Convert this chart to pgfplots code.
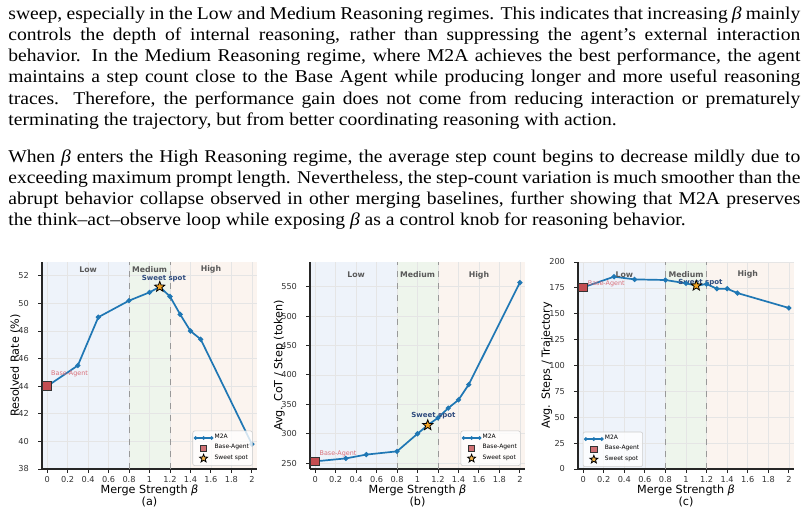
\documentclass[border=0pt]{standalone}
\usepackage{fontspec}
\setmainfont{Liberation Serif}
\newfontfamily\txtfont{Liberation Serif}[FakeStretch=1.09]
\newfontfamily\dejavu{DejaVu Sans}
\usepackage{pgfplots}
\pgfplotsset{compat=1.18}
\definecolor{m2a}{HTML}{1F77B4}
\definecolor{basered}{HTML}{C44E52}
\definecolor{starc}{HTML}{F5A623}
\definecolor{sweettext}{HTML}{2E4A7D}
\definecolor{basetext}{HTML}{D9707A}
\definecolor{lowbg}{HTML}{EEF3FA}
\definecolor{medbg}{HTML}{EEF5EC}
\definecolor{highbg}{HTML}{FBF4EF}
\pgfdeclareplotmark{fstar}{%
  \pgfpathmoveto{\pgfpointpolar{90}{\pgfplotmarksize}}%
  \pgfpathlineto{\pgfpointpolar{126}{0.42\pgfplotmarksize}}%
  \pgfpathlineto{\pgfpointpolar{162}{\pgfplotmarksize}}%
  \pgfpathlineto{\pgfpointpolar{198}{0.42\pgfplotmarksize}}%
  \pgfpathlineto{\pgfpointpolar{234}{\pgfplotmarksize}}%
  \pgfpathlineto{\pgfpointpolar{270}{0.42\pgfplotmarksize}}%
  \pgfpathlineto{\pgfpointpolar{306}{\pgfplotmarksize}}%
  \pgfpathlineto{\pgfpointpolar{342}{0.42\pgfplotmarksize}}%
  \pgfpathlineto{\pgfpointpolar{18}{\pgfplotmarksize}}%
  \pgfpathlineto{\pgfpointpolar{54}{0.42\pgfplotmarksize}}%
  \pgfpathclose\pgfusepathqfillstroke}
\pgfplotsset{
  m2apanel/.style={
    set layers, clip=false, scale only axis, height=103.5pt, width=107.5pt,
    axis lines*=left, axis line style={black!85, line width=0.55pt},
    xmin=-0.05, xmax=2.05,
    xtick={0,0.2,0.4,0.6,0.8,1,1.2,1.4,1.6,1.8,2},
    tick align=outside, major tick length=1.8pt,
    tick style={black!85, line width=0.45pt},
    grid=major, grid style={black!10, line width=0.35pt},
    /pgf/number format/assume math mode=true,
    tick label style={font=\dejavu\fontsize{4.1}{5}\selectfont, text=black!80},
    xticklabel style={yshift=1.5pt},
    yticklabel style={xshift=-1.2pt},
    label style={font=\dejavu\fontsize{5.6}{6.5}\selectfont},
    xlabel={Merge Strength {\itshape β}},
    x label style={at={(axis description cs:0.5,-0.101)}, anchor=center},
    legend cell align=left,
    legend style={font=\dejavu\fontsize{3}{3.6}\selectfont, fill=white, fill opacity=0.8, text opacity=1,
      draw=black!20, line width=0.3pt, rounded corners=1pt, inner sep=0.8pt,
      row sep=-0.4pt, nodes={inner sep=0.9pt}},
  },
  m2aline/.style={m2a, line width=0.85pt, mark=*, mark size=0.8pt, mark options={solid},
    legend image code/.code={\draw[##1, line width=0.6pt, mark size=0.6pt] plot coordinates {(0pt,0pt) (4pt,0pt) (8pt,0pt)};}},
  basemark/.style={only marks, mark=square*, mark size=2.2pt, mark options={fill=basered, draw=black!80, line width=0.45pt},
    legend image code/.code={\draw[##1, mark size=1.6pt] plot coordinates {(4pt,0pt)};}},
  starmark/.style={only marks, mark=fstar, mark size=2.7pt, mark options={fill=starc, draw=black, line width=0.4pt},
    legend image code/.code={\draw[##1, mark size=2.1pt] plot coordinates {(4pt,0pt)};}},
}
\tikzset{
  regionlab/.style={font=\dejavu\bfseries\fontsize{3.9}{4.5}\selectfont, text=black!65},
  sweetlab/.style={font=\dejavu\bfseries\fontsize{3.5}{4}\selectfont, text=sweettext},
  baselab/.style={font=\dejavu\fontsize{3.2}{4}\selectfont, text=basetext, anchor=west, inner sep=0pt},
}
\newcommand{\regions}[2]{%
  \begin{pgfonlayer}{axis background}
    \fill[lowbg] (axis cs:-0.05,#1) rectangle (axis cs:0.8,#2);
    \fill[medbg] (axis cs:0.8,#1) rectangle (axis cs:1.2,#2);
    \fill[highbg] (axis cs:1.2,#1) rectangle (axis cs:2.05,#2);
  \end{pgfonlayer}
  \draw[black!40, dashed, line width=0.45pt] (axis cs:0.8,#1) -- (axis cs:0.8,#2);
  \draw[black!40, dashed, line width=0.45pt] (axis cs:1.2,#1) -- (axis cs:1.2,#2);
}
\newcommand{\regionlabels}[1]{%
  \node[regionlab] at (axis cs:0.4,#1) {Low};
  \node[regionlab] at (axis cs:1.0,#1) {Medium};
  \node[regionlab] at (axis cs:1.6,#1) {High};
}
\newcommand{\tl}[2]{\node[anchor=base west, inner sep=0pt, font=\txtfont\fontsize{9}{11}\selectfont] at (4pt,-#1pt) {\makebox[396pt][s]{#2}};}
\newcommand{\tll}[2]{\node[anchor=base west, inner sep=0pt, font=\txtfont\fontsize{9}{11}\selectfont] at (4pt,-#1pt) {#2};}
\begin{document}
\begin{tikzpicture}
\path (0,0) rectangle (403pt,-256.5pt);
% paragraph 1
\tl{9.65}{sweep, especially in the Low and Medium Reasoning regimes. This indicates that increasing {\itshape β} mainly}
\tl{20.25}{controls the depth of internal reasoning, rather than suppressing the agent’s external interaction}
\tl{30.85}{behavior. In the Medium Reasoning regime, where M2A achieves the best performance, the agent}
\tl{41.45}{maintains a step count close to the Base Agent while producing longer and more useful reasoning}
\tl{52.05}{traces. Therefore, the performance gain does not come from reducing interaction or prematurely}
\tll{62.65}{terminating the trajectory, but from better coordinating reasoning with action.}
% paragraph 2
\tl{81.15}{When {\itshape β} enters the High Reasoning regime, the average step count begins to decrease mildly due to}
\tl{91.75}{exceeding maximum prompt length. Nevertheless, the step-count variation is much smoother than the}
\tl{102.35}{abrupt behavior collapse observed in other merging baselines, further showing that M2A preserves}
\tll{112.95}{the think–act–observe loop while exposing {\itshape β} as a control knob for reasoning behavior.}

% (a)
\begin{axis}[m2apanel, at={(21pt,-234.5pt)}, anchor=south west,
  ymin=38, ymax=53, ytick={38,40,42,44,46,48,50,52},
  ylabel={Resolved Rate (\%)},
  y label style={at={(axis description cs:-0.124,0.5)}, anchor=center},
  legend style={at={(0.98,0.015)}, anchor=south east}]
\regions{38}{53}
\addplot[m2aline] coordinates {(0,44.0) (0.3,45.5) (0.5,49.0) (0.8,50.2) (1.0,50.8) (1.1,51.2) (1.2,50.5) (1.3,49.2) (1.4,48.0) (1.5,47.4) (2.0,39.8)};
\addplot[basemark] coordinates {(0,44.0)};
\addplot[starmark] coordinates {(1.1,51.2)};
\legend{M2A, Base-Agent, Sweet spot}
\regionlabels{52.45}
\node[sweetlab] at (axis cs:1.14,51.83) {Sweet spot};
\node[baselab] at (axis cs:0.036,44.9) {Base-Agent};
\node[font=\dejavu\fontsize{5.6}{6.5}\selectfont] at (axis description cs:0.5,-0.158) {(a)};
\end{axis}

% (b)
\begin{axis}[m2apanel, at={(155pt,-234.5pt)}, anchor=south west,
  ymin=240, ymax=592, ytick={250,300,350,400,450,500,550},
  ylabel={Avg. CoT / Step (token)},
  y label style={at={(axis description cs:-0.143,0.5)}, anchor=center},
  legend style={at={(0.98,0.015)}, anchor=south east}]
\regions{240}{592}
\addplot[m2aline] coordinates {(0,253) (0.3,258) (0.5,264.5) (0.8,270) (1.0,300) (1.1,314.5) (1.2,327) (1.3,343.5) (1.4,357.5) (1.5,383.5) (2.0,557)};
\addplot[basemark] coordinates {(0,253)};
\addplot[starmark] coordinates {(1.1,314.5)};
\legend{M2A, Base-Agent, Sweet spot}
\regionlabels{569.8}
\node[sweetlab] at (axis cs:1.155,331) {Sweet spot};
\node[baselab] at (axis cs:0.04,266.3) {Base-Agent};
\node[font=\dejavu\fontsize{5.6}{6.5}\selectfont] at (axis description cs:0.5,-0.158) {(b)};
\end{axis}

% (c)
\begin{axis}[m2apanel, at={(289pt,-234.5pt)}, width=108pt, anchor=south west,
  ymin=0, ymax=200, ytick={0,25,50,75,100,125,150,175,200},
  ylabel={Avg. Steps / Trajectory},
  y label style={at={(axis description cs:-0.144,0.5)}, anchor=center},
  legend style={at={(0.022,0.01)}, anchor=south west}]
\regions{0}{200}
\addplot[m2aline] coordinates {(0,175.5) (0.3,185.8) (0.5,183.2) (0.8,182.6) (1.0,179.4) (1.1,177.1) (1.2,178.7) (1.3,174.2) (1.4,174.2) (1.5,170.0) (2.0,155.6)};
\addplot[basemark] coordinates {(0,175.5)};
\addplot[starmark] coordinates {(1.1,177.1)};
\legend{M2A, Base-Agent, Sweet spot}
\regionlabels{188}
\node[sweetlab] at (axis cs:1.14,180) {Sweet spot};
\node[baselab] at (axis cs:0.042,178.5) {Base-Agent};
\node[font=\dejavu\fontsize{5.6}{6.5}\selectfont] at (axis description cs:0.5,-0.158) {(c)};
\end{axis}
\end{tikzpicture}
\end{document}
